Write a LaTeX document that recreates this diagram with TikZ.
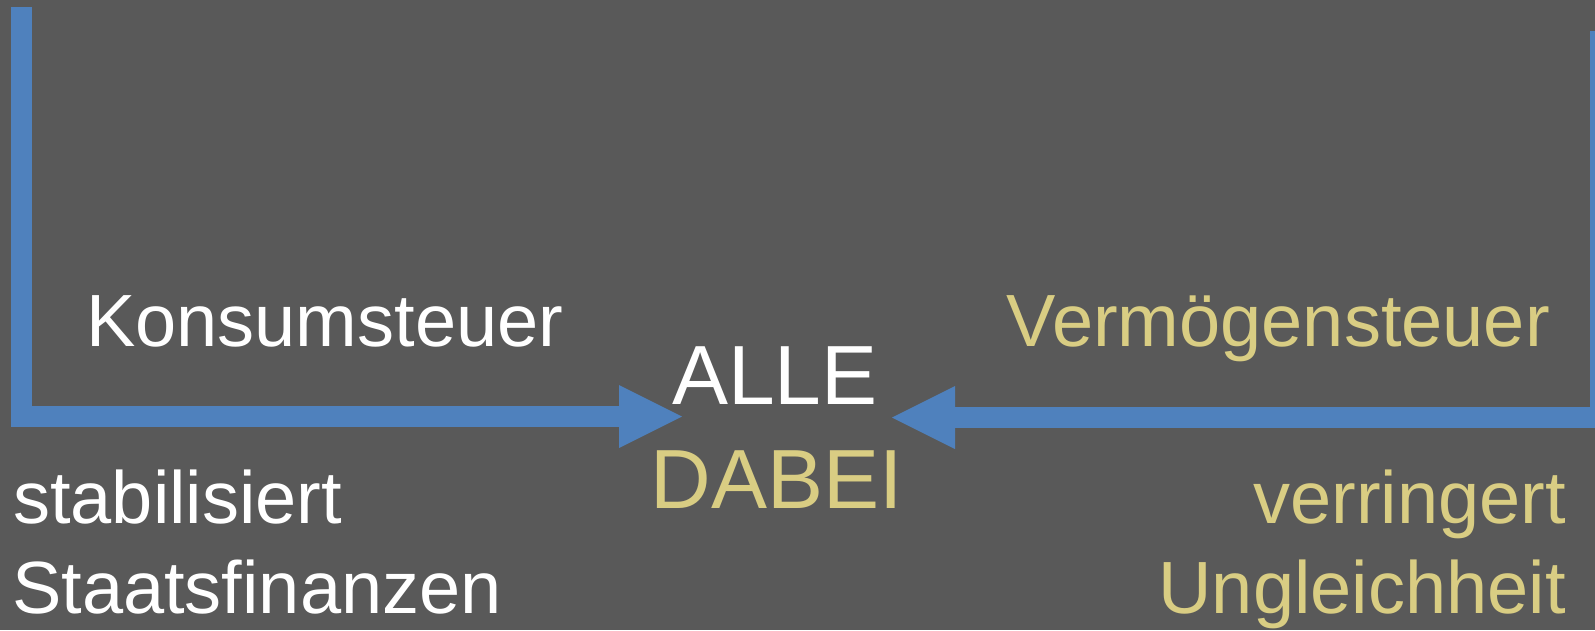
\documentclass[tikz,border=0pt]{standalone}
\usepackage{fontspec}
\setmainfont{Liberation Sans}
\usetikzlibrary{arrows.meta}
\definecolor{bgc}{HTML}{595959}
\definecolor{bluec}{HTML}{4F81BD}
\definecolor{goldc}{HTML}{D9CD83}
\tikzset{
  flow/.style={draw=bluec, line width=21pt, line cap=butt, line join=miter,
    -{Triangle[length=63pt,width=63pt,line width=0pt,fill=bluec]}},
  lbl/.style={inner sep=0pt, font=\fontsize{74}{89}\selectfont},
  big/.style={inner sep=0pt, font=\fontsize{84}{100}\selectfont},
}
\begin{document}
\begin{tikzpicture}[x=1pt,y=-1pt]
\useasboundingbox (0,0) rectangle (1595,630);
\fill[bgc] (0,0) rectangle (1595,630);
\clip (0,0) rectangle (1595,630);
% centre texts
\node[big, text=white, anchor=base] (alle) at (775,404) {ALLE};
\node[big, text=goldc, anchor=base] (dabei) at (777,508) {DABEI};
% arrow endpoints
\coordinate (ls) at (21.5,7);
\coordinate (lt) at (682,416.5);
\coordinate (rs) at (1600.5,31);
\coordinate (rt) at (892,417.5);
\draw[flow] (ls) |- (lt);
\draw[flow] (rs) |- (rt);
% labels
\node[lbl, text=white, anchor=base west] (konsum) at (86,346) {Konsumsteuer};
\node[lbl, text=goldc, anchor=base east] (verm) at (1550,346) {Vermögensteuer};
\node[lbl, text=white, anchor=base west] (stab) at (13,523) {stabilisiert};
\node[lbl, text=white, anchor=base west] (staat) at (12,613) {Staatsfinanzen};
\node[lbl, text=goldc, anchor=base east] (verr) at (1566,523) {verringert};
\node[lbl, text=goldc, anchor=base east] (ungl) at (1566,613) {Ungleichheit};
\end{tikzpicture}
\end{document}
